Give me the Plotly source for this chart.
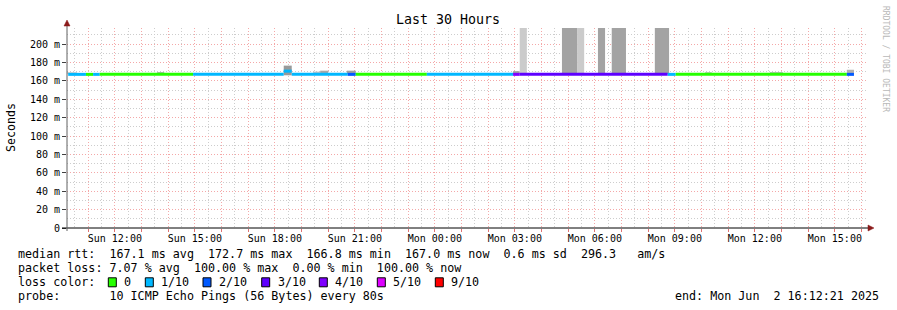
import plotly.graph_objects as go
import pandas as pd

# ---------------- data ----------------
# median RTT segments (boundaries, loss in tenths, median in ms)
seg_bounds = ["2025-06-01 10:15", "2025-06-01 10:55", "2025-06-01 11:11", "2025-06-01 11:26",
              "2025-06-01 14:56", "2025-06-01 18:20", "2025-06-01 18:38", "2025-06-01 20:44",
              "2025-06-01 21:02", "2025-06-01 23:42", "2025-06-02 02:56", "2025-06-02 03:11",
              "2025-06-02 08:44", "2025-06-02 09:02", "2025-06-02 15:27", "2025-06-02 15:43"]
seg_loss = [1, 0, 1, 0, 1, 1, 1, 2, 0, 1, 4, 3, 1, 0, 2]
seg_median_ms = [167.0, 167.0, 167.0, 167.0, 167.0, 170.5, 167.0, 167.0,
                 167.0, 167.0, 167.0, 167.0, 167.0, 167.0, 167.0]

# smoke (ping spread) blocks
smoke_start = ["2025-06-01 10:12", "2025-06-01 13:35", "2025-06-01 18:20", "2025-06-01 19:26",
               "2025-06-01 19:42", "2025-06-01 20:42", "2025-06-02 02:56", "2025-06-02 03:11",
               "2025-06-02 04:46", "2025-06-02 05:20", "2025-06-02 06:07", "2025-06-02 06:38",
               "2025-06-02 08:15", "2025-06-02 10:08", "2025-06-02 12:34", "2025-06-02 15:27"]
smoke_end = ["2025-06-01 10:35", "2025-06-01 13:51", "2025-06-01 18:38", "2025-06-01 19:42",
             "2025-06-01 20:00", "2025-06-01 21:02", "2025-06-02 03:11", "2025-06-02 03:27",
             "2025-06-02 05:20", "2025-06-02 05:36", "2025-06-02 06:23", "2025-06-02 07:10",
             "2025-06-02 08:47", "2025-06-02 10:23", "2025-06-02 13:03", "2025-06-02 15:43"]
smoke_low_ms = [167.5, 167.5, 166.0, 167.5, 167.5, 167.5, 167.5, 167.5,
                167.5, 167.5, 167.5, 167.5, 167.5, 167.5, 167.5, 167.5]
smoke_high_ms = [169.5, 169.5, 176.5, 170.0, 171.0, 171.0, 170.5, 300.0,
                 300.0, 300.0, 300.0, 300.0, 300.0, 169.5, 169.5, 172.0]
smoke_shade = ["#d0d0d0", "#b0b0b0", "#9a9a9a", "#c4c4c4", "#a8a8a8", "#a0a0a0", "#a0a0a0", "#cbcbcb",
               "#a3a3a3", "#cbcbcb", "#a3a3a3", "#a3a3a3", "#a3a3a3", "#c4c4c4", "#b8b8b8", "#b0b0b0"]

loss_labels = ["0", "1/10", "2/10", "3/10", "4/10", "5/10", "9/10"]
loss_tenths = [0, 1, 2, 3, 4, 5, 9]
loss_colors = ["#26ff00", "#00b8ff", "#0059ff", "#5e00ff", "#7e00ff", "#dd00ff", "#ff0000"]

y_ticks_ms = [0, 20, 40, 60, 80, 100, 120, 140, 160, 180, 200]
x_start = "2025-06-01 10:12:21"
x_end = "2025-06-02 16:12:21"

stats_lines = [
    "median rtt:  167.1 ms avg  172.7 ms max  166.8 ms min  167.0 ms now  0.6 ms sd  296.3   am/s",
    "packet loss: 7.07 % avg  100.00 % max  0.00 % min  100.00 % now",
]
probe_line = "probe:       10 ICMP Echo Pings (56 Bytes) every 80s"
end_line = "end: Mon Jun  2 16:12:21 2025"

# ---------------- layout geometry ----------------
W, H = 897, 310
L, R, T, B = 67, 30, 28, 82
PW, PH = W - L - R, H - T - B
FONT = "DejaVu Sans Mono"


def px(x):
    return (x - L) / PW


def py(y):
    return (H - B - y) / PH


color_of = dict(zip(loss_tenths, loss_colors))

fig = go.Figure()

# smoke
for s, e, lo, hi, c in zip(smoke_start, smoke_end, smoke_low_ms, smoke_high_ms, smoke_shade):
    fig.add_trace(go.Scatter(x=[s, s, e, e, s], y=[lo / 1000, hi / 1000, hi / 1000, lo / 1000, lo / 1000],
                             fill="toself", fillcolor=c, line=dict(width=0), mode="lines",
                             hoverinfo="skip", showlegend=False))

# median line segments
for i, (lv, m) in enumerate(zip(seg_loss, seg_median_ms)):
    fig.add_trace(go.Scatter(x=[seg_bounds[i], seg_bounds[i + 1]], y=[m / 1000, m / 1000],
                             mode="lines", line=dict(color=color_of[lv], width=3),
                             hoverinfo="skip", showlegend=False))

hours = pd.date_range("2025-06-01 11:00", "2025-06-02 16:00", freq="h")
halfs = pd.date_range("2025-06-01 10:30", "2025-06-02 15:30", freq="h")
ticktext = [h.strftime("%a %H:%M") if h.hour % 3 == 0 else "" for h in hours]

MAJ = "#f4a8a8"
MIN = "#cdcdcd"

fig.update_layout(
    width=W, height=H, margin=dict(l=L, r=R, t=T, b=B, pad=0),
    paper_bgcolor="white", plot_bgcolor="white",
    font=dict(family=FONT, color="black", size=10),
    showlegend=False,
    xaxis=dict(type="date", range=[x_start, x_end], tickmode="array", tickvals=list(hours),
               ticktext=ticktext, showgrid=True, gridcolor=MAJ, griddash="1px,2px", gridwidth=1,
               ticks="outside", ticklen=3, tickcolor="#e07070", tickfont=dict(size=10, family=FONT),
               ticklabelstandoff=-2,
               showline=False, zeroline=False, layer="above traces", fixedrange=True,
               minor=dict(tickmode="array", tickvals=list(halfs), showgrid=True, gridcolor=MIN,
                          griddash="1px,2px", gridwidth=1, ticks="")),
    yaxis=dict(range=[0, PH / 0.92 / 1000], tickmode="array", tickvals=[v / 1000 for v in y_ticks_ms],
               ticktext=["0" if v == 0 else f"{v} m" for v in y_ticks_ms],
               showgrid=True, gridcolor=MAJ, griddash="1px,2px", gridwidth=1,
               ticks="outside", ticklen=4, tickcolor="#404040", tickfont=dict(size=10, family=FONT),
               showline=False, zeroline=False, layer="above traces", fixedrange=True,
               minor=dict(dtick=0.01, tick0=0, showgrid=True, gridcolor=MIN,
                          griddash="1px,2px", gridwidth=1, ticks="")),
)

shapes = []
# axes lines
shapes.append(dict(type="line", xref="paper", yref="paper", x0=px(62), x1=px(870), y0=0, y1=0,
                   line=dict(color="black", width=1), layer="above"))
shapes.append(dict(type="line", xref="paper", yref="paper", x0=0, x1=0, y0=py(231), y1=py(23),
                   line=dict(color="#606060", width=1), layer="above"))
# arrows
shapes.append(dict(type="path", xref="paper", yref="paper",
                   path=f"M {px(868)} {py(225)} L {px(874)} {py(228)} L {px(868)} {py(231)} Z",
                   fillcolor="#8b1a1a", line=dict(color="#8b1a1a", width=0.5), layer="above"))
shapes.append(dict(type="path", xref="paper", yref="paper",
                   path=f"M {px(64)} {py(26)} L {px(67)} {py(20)} L {px(70)} {py(26)} Z",
                   fillcolor="#8b1a1a", line=dict(color="#8b1a1a", width=0.5), layer="above"))

annotations = []
annotations.append(dict(text="Last 30 Hours", xref="paper", yref="paper", x=px(448), y=py(20),
                        xanchor="center", yanchor="middle", showarrow=False,
                        font=dict(family=FONT, size=13.3, color="black")))
annotations.append(dict(text="Seconds", xref="paper", yref="paper", x=px(11), y=py(127),
                        xanchor="center", yanchor="middle", textangle=-90, showarrow=False,
                        font=dict(family=FONT, size=11.6, color="black")))
annotations.append(dict(text="RRDTOOL / TOBI OETIKER", xref="paper", yref="paper", x=px(886), y=py(59),
                        xanchor="center", yanchor="middle", textangle=90, showarrow=False,
                        font=dict(family=FONT, size=8, color="#b8b8b8")))

FS = 11.7
row_y = [254.3, 268.3, 282.3, 296.3]
for line, yy in zip(stats_lines, row_y[:2]):
    annotations.append(dict(text=line.replace(" ", "&nbsp;"), xref="paper", yref="paper", x=px(16), y=py(yy),
                            xanchor="left", yanchor="middle", showarrow=False,
                            font=dict(family=FONT, size=FS, color="black")))
annotations.append(dict(text="loss&nbsp;color:", xref="paper", yref="paper", x=px(16), y=py(row_y[2]),
                        xanchor="left", yanchor="middle", showarrow=False,
                        font=dict(family=FONT, size=FS, color="black")))
box_cx = [112.3, 149.3, 207.0, 265.7, 323.3, 381.3, 439.3]
for cx, lab, col in zip(box_cx, loss_labels, loss_colors):
    shapes.append(dict(type="rect", xref="paper", yref="paper", x0=px(cx - 4), x1=px(cx + 4),
                       y0=py(row_y[2] + 4.5), y1=py(row_y[2] - 4.5), fillcolor=col,
                       line=dict(color="black", width=1), layer="above"))
    annotations.append(dict(text=lab, xref="paper", yref="paper", x=px(cx + 10), y=py(row_y[2]),
                            xanchor="left", yanchor="middle", showarrow=False,
                            font=dict(family=FONT, size=FS, color="black")))
annotations.append(dict(text=probe_line.replace(" ", "&nbsp;"), xref="paper", yref="paper", x=px(16),
                        y=py(row_y[3]), xanchor="left", yanchor="middle", showarrow=False,
                        font=dict(family=FONT, size=FS, color="black")))
annotations.append(dict(text=end_line.replace(" ", "&nbsp;"), xref="paper", yref="paper", x=px(881),
                        y=py(row_y[3]), xanchor="right", yanchor="middle", showarrow=False,
                        font=dict(family=FONT, size=FS, color="black")))

fig.update_layout(shapes=shapes, annotations=annotations)
fig.write_html("out.html")
